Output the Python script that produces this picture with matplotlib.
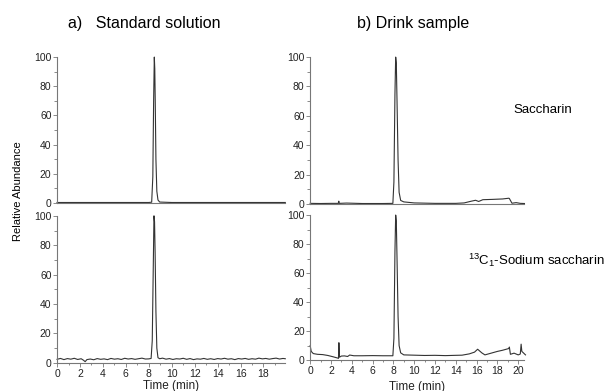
import matplotlib
matplotlib.use("Agg")
import matplotlib.pyplot as plt
from matplotlib.ticker import MultipleLocator

plt.rcParams['font.family'] = ['Liberation Sans', 'DejaVu Sans']
plt.rcParams['mathtext.fontset'] = 'custom'
plt.rcParams['mathtext.rm'] = 'Liberation Sans'
plt.rcParams['mathtext.it'] = 'Liberation Sans'

# a) standard solution - saccharin
std_sac_t = [0, 2, 4, 6, 8, 8.25, 8.35, 8.42, 8.48, 8.52, 8.56, 8.62, 8.7, 8.8, 8.95, 10, 14, 19.9]
std_sac_y = [0.3, 0.3, 0.3, 0.3, 0.3, 0.5, 18, 70, 100, 92, 70, 30, 8, 2, 0.6, 0.3, 0.3, 0.3]

# a) standard solution - 13C1-sodium saccharin (noisy baseline)
std_c13_t = [0, 0.3, 0.6, 0.9, 1.2, 1.5, 1.8, 2.1, 2.3, 2.45, 2.6, 2.9, 3.2, 3.5, 3.8, 4.1, 4.4,
             4.7, 5.0, 5.3, 5.6, 5.9, 6.2, 6.5, 6.8, 7.1, 7.4, 7.7, 8.0, 8.2, 8.3, 8.38,
             8.45, 8.5, 8.55, 8.62, 8.7, 8.8, 8.95, 9.2, 9.5, 9.8, 10.1, 10.4, 10.7, 11.0,
             11.3, 11.6, 11.9, 12.2, 12.5, 12.8, 13.1, 13.4, 13.7, 14.0, 14.3, 14.6, 14.9,
             15.2, 15.5, 15.8, 16.1, 16.4, 16.7, 17.0, 17.3, 17.6, 17.9, 18.2, 18.5, 18.8,
             19.1, 19.4, 19.7, 19.9]
std_c13_y = [2.4, 3.0, 2.2, 2.9, 2.5, 3.1, 2.3, 2.8, 1.8, 0.8, 2.2, 2.6, 2.1, 2.9, 2.4, 2.7, 2.2,
             3.0, 2.5, 2.8, 2.3, 3.1, 2.6, 2.9, 2.4, 2.8, 3.2, 2.6, 2.7, 3.0, 15, 60,
             100, 96, 75, 35, 10, 3.5, 2.8, 3.2, 2.5, 2.9, 2.3, 2.8, 2.6, 3.1,
             2.4, 2.9, 2.2, 2.7, 2.5, 3.0, 2.4, 2.8, 2.3, 2.9, 2.6, 3.1, 2.5,
             2.8, 2.2, 2.9, 2.6, 3.0, 2.4, 2.8, 2.5, 3.2, 2.7, 3.0, 2.5, 2.9,
             3.2, 2.6, 3.0, 2.8]

# b) drink sample - saccharin
drk_sac_t = [0, 1, 2, 2.7, 2.75, 2.8, 3.5, 5, 7, 7.95, 8.05, 8.15, 8.22, 8.28, 8.35, 8.45, 8.55,
             8.7, 9.0, 10, 12, 14, 14.8, 15.5, 15.9, 16.2, 16.6, 17.5, 18.5, 19.1, 19.15,
             19.4, 19.8, 20.2, 20.6]
drk_sac_y = [0.5, 0.4, 0.5, 0.5, 2.0, 0.5, 0.7, 0.4, 0.4, 0.5, 15, 75, 100, 96, 70, 30, 8,
             2.5, 1.5, 0.8, 0.5, 0.5, 0.8, 2.0, 2.6, 1.8, 3.0, 3.2, 3.5, 4.0, 3.8,
             0.6, 1.0, 0.5, 0.4]

# b) drink sample - 13C1-sodium saccharin
drk_c13_t = [0, 0.1, 0.3, 0.7, 1.2, 1.7, 2.2, 2.6, 2.72, 2.76, 2.82, 3.0, 3.3, 3.6, 3.8,
             4.2, 5, 6, 7, 7.95, 8.05, 8.15, 8.22, 8.28, 8.35, 8.45, 8.55, 8.7, 9.0, 10,
             11, 12, 13, 14, 14.6, 15.3, 15.8, 16.1, 16.5, 16.8, 17.5, 18.0, 18.5, 19.1,
             19.15, 19.25, 19.6, 20.0, 20.2, 20.28, 20.35, 20.5, 20.7]
drk_c13_y = [10, 6, 4.5, 4, 3.8, 3.2, 2.3, 1.5, 1.2, 12, 2.0, 2.8, 2.9, 2.5, 3.5,
             3.0, 3.0, 3.1, 3.0, 3.0, 15, 75, 100, 96, 70, 30, 10, 5, 3.6, 3.4,
             3.2, 3.3, 3.1, 3.3, 3.4, 4.3, 5.5, 7.5, 5.0, 3.6, 5.0, 6.0, 6.8, 8.0,
             9.0, 4.0, 4.8, 3.6, 4.2, 11, 6, 5, 3.6]

line_color = '#333333'
axis_color = '#777777'

fig = plt.figure(figsize=(6.07, 3.91), dpi=100)

panels = [
    ([0.094, 0.481, 0.376, 0.373], std_sac_t, std_sac_y, 19.9, False, 1),
    ([0.094, 0.072, 0.376, 0.376], std_c13_t, std_c13_y, 19.9, True, 1),
    ([0.511, 0.478, 0.353, 0.376], drk_sac_t, drk_sac_y, 20.6, False, 1),
    ([0.511, 0.079, 0.353, 0.371], drk_c13_t, drk_c13_y, 20.6, True, 3),
]

for rect, t, y, xmax, bottom, lpad in panels:
    ax = fig.add_axes(rect)
    ax.plot(t, y, color=line_color, lw=0.8, clip_on=False)
    ax.set_xlim(0, xmax)
    ax.set_ylim(0, 100)
    for side in ['top', 'right']:
        ax.spines[side].set_visible(False)
    for side in ['left', 'bottom']:
        ax.spines[side].set_color(axis_color)
        ax.spines[side].set_linewidth(0.8)
    ax.yaxis.set_major_locator(MultipleLocator(20))
    ax.yaxis.set_minor_locator(MultipleLocator(10))
    ax.tick_params(axis='y', which='major', length=3, width=0.6, color=axis_color,
                   labelsize=7.5, labelcolor='#222222', pad=1)
    ax.tick_params(axis='y', which='minor', length=2, width=0.6, color=axis_color)
    if bottom:
        ax.xaxis.set_major_locator(MultipleLocator(2))
        ax.xaxis.set_minor_locator(MultipleLocator(1))
        ax.tick_params(axis='x', which='major', length=3, width=0.6, color=axis_color,
                       labelsize=7.5, labelcolor='#222222', pad=1.5)
        ax.tick_params(axis='x', which='minor', length=1.5, width=0.6, color=axis_color)
        ax.set_xlabel('Time (min)', fontsize=8.5, color='#222222', labelpad=lpad)
    else:
        ax.set_xticks([])

fig.text(0.112, 0.94, 'a)   Standard solution', fontsize=11.5, va='center', ha='left')
fig.text(0.588, 0.94, 'b) Drink sample', fontsize=11.5, va='center', ha='left')
fig.text(0.029, 0.51, 'Relative Abundance', fontsize=8, rotation=90, va='center', ha='center')
fig.text(0.894, 0.718, 'Saccharin', fontsize=9.5, va='center', ha='center')
fig.text(0.997, 0.335, r'$\mathregular{^{13}C_1}$-Sodium saccharin', fontsize=9.5,
         va='center', ha='right')

fig.savefig('out.png', dpi=100)
